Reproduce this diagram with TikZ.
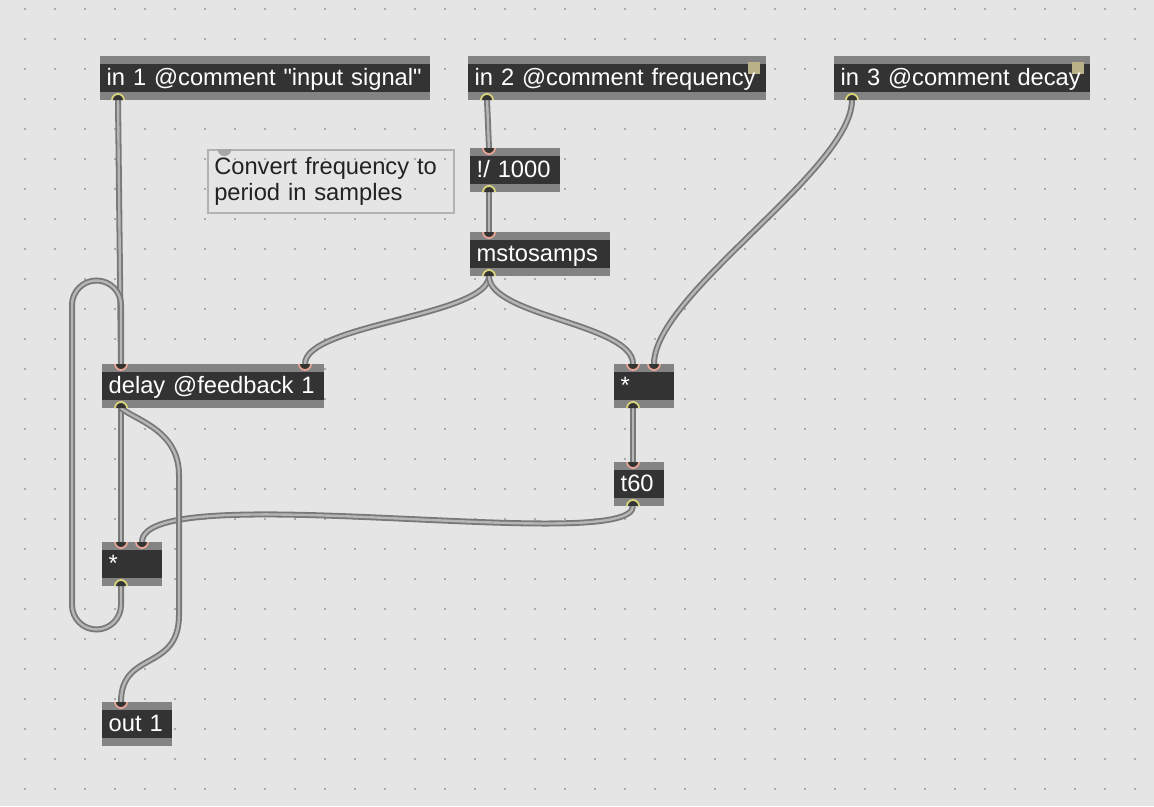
\documentclass[tikz,border=0pt]{standalone}
\usepackage{fontspec}
\setmainfont{Liberation Sans}
\definecolor{bggrey}{HTML}{E5E5E5}
\definecolor{dotgrey}{HTML}{ABABAB}
\definecolor{bargrey}{HTML}{838383}
\definecolor{objdark}{HTML}{333333}
\definecolor{inring}{HTML}{E8A595}
\definecolor{outring}{HTML}{D9D57A}
\definecolor{cableout}{HTML}{787878}
\definecolor{cablein}{HTML}{B6B6B6}
\definecolor{markertan}{HTML}{B9B188}
\definecolor{noteborder}{HTML}{B2B2B2}
\definecolor{notedot}{HTML}{A6A6A6}
\definecolor{notetext}{HTML}{222222}
\newcommand{\inlet}[1]{%
  \fill[objdark] (#1) ++(-6,0) arc[start angle=180,end angle=360,radius=6pt] -- cycle;
  \draw[inring, line width=1.8pt] (#1) ++(-6,0) arc[start angle=180,end angle=360,radius=6pt];}
\newcommand{\outlet}[1]{%
  \fill[objdark] (#1) ++(-6,0) arc[start angle=180,end angle=0,radius=6pt] -- cycle;
  \draw[outring, line width=1.8pt] (#1) ++(-6,0) arc[start angle=180,end angle=0,radius=6pt];}
\begin{document}
\begin{tikzpicture}[x=1pt, y=-1pt,
  obj/.style={rectangle, anchor=north west, fill=objdark, inner xsep=6.5pt, inner ysep=0pt,
    minimum height=44pt, text width=#1, align=left, text=white,
    font=\fontsize{23.7}{26}\selectfont, text height=17pt, text depth=3pt,
    execute at begin node={\hbox\bgroup}, execute at end node={\egroup},
    path picture={
      \fill[bargrey] (path picture bounding box.north west) rectangle ([yshift=-8pt]path picture bounding box.north east);
      \fill[bargrey] (path picture bounding box.south west) rectangle ([yshift=8pt]path picture bounding box.south east);}},
  marked/.style={path picture={
      \fill[bargrey] (path picture bounding box.north west) rectangle ([yshift=-8pt]path picture bounding box.north east);
      \fill[bargrey] (path picture bounding box.south west) rectangle ([yshift=8pt]path picture bounding box.south east);
      \fill[markertan] ([xshift=-18pt,yshift=-6pt]path picture bounding box.north east) rectangle ++(12pt,-12pt);}},
  note/.style={rectangle, anchor=north west, draw=noteborder, line width=1.5pt,
    minimum width=246pt, minimum height=63pt, inner xsep=6pt, text width=233pt,
    align=left, text=notetext, font=\fontsize{23.7}{26}\selectfont},
  cable/.style={draw=cableout, line width=1.8pt, double=cablein, double distance=2.4pt}]
\useasboundingbox (0,0) rectangle (1154,806);
\fill[bggrey] (0,0) rectangle (1154,806);
\foreach \x in {25,55,...,1135}
  \foreach \y in {9,39,...,789}
    \fill[dotgrey] (\x-1,\y-1) rectangle (\x+1,\y+1);
% objects
\node[obj=317pt] (in1) at (100,56) {in 1 @comment \textquotedbl input signal\textquotedbl};
\node[obj=285pt, marked] (in2) at (468,56) {in 2 @comment frequency};
\node[obj=243pt, marked] (in3) at (834,56) {in 3 @comment decay};
\node[obj=77pt] (div) at (470,148) {!/ 1000};
\node[obj=127pt] (msto) at (470,232) {mstosamps};
\node[obj=209pt] (delay) at (102,364) {delay @feedback 1};
\node[obj=47pt] (mulR) at (614,364) {*};
\node[obj=37pt] (t60) at (614,462) {t60};
\node[obj=47pt] (mulL) at (102,542) {*};
\node[obj=57pt] (out1) at (102,702) {out 1};
\node[note] (note) at (207,149) {Convert frequency to\\period in samples};
\fill[notedot] (224.5,149) ++(-7,0) arc[start angle=180,end angle=360,radius=7pt] -- cycle;
% ports
\coordinate (in1out) at (118,100);
\coordinate (in2out) at (487,100);
\coordinate (in3out) at (852,100);
\coordinate (divin) at (489,148);
\coordinate (divout) at (489,192);
\coordinate (mstoin) at (489,232);
\coordinate (mstoout) at (489,276);
\coordinate (delayin1) at (121,364);
\coordinate (delayin2) at (305,364);
\coordinate (delayout) at (121,408);
\coordinate (mulRin1) at (633,364);
\coordinate (mulRin2) at (654,364);
\coordinate (mulRout) at (633,408);
\coordinate (t60in) at (633,462);
\coordinate (t60out) at (633,506);
\coordinate (mulLin1) at (121,542);
\coordinate (mulLin2) at (142,542);
\coordinate (mulLout) at (121,586);
\coordinate (out1in) at (121,702);
% cables
\draw[cable] (in1out) -- (delayin1);
\draw[cable] (in2out) -- (divin);
\draw[cable] (divout) -- (mstoin);
\draw[cable] (mstoout) .. controls (489,316) and (305,324) .. (delayin2);
\draw[cable] (mstoout) .. controls (489,316) and (633,324) .. (mulRin1);
\draw[cable] (in3out) .. controls (852,170) and (654,294) .. (mulRin2);
\draw[cable] (mulRout) -- (t60in);
\draw[cable] (t60out) .. controls (633,556) and (142,476) .. (mulLin2);
\draw[cable] (delayout) -- (mulLin1);
\draw[cable] (delayout) .. controls (135,420) and (179,430) .. (179,475) -- (179,615)
  .. controls (179,672) and (121,650) .. (out1in);
\draw[cable] (mulLout) -- (121,605) arc[start angle=0,end angle=-180,radius=24.5pt]
  -- (72,305) arc[start angle=180,end angle=0,radius=24.5pt] -- (delayin1);
% inlets and outlets
\outlet{in1out} \outlet{in2out} \outlet{in3out}
\inlet{divin} \outlet{divout}
\inlet{mstoin} \outlet{mstoout}
\inlet{delayin1} \inlet{delayin2} \outlet{delayout}
\inlet{mulRin1} \inlet{mulRin2} \outlet{mulRout}
\inlet{t60in} \outlet{t60out}
\inlet{mulLin1} \inlet{mulLin2} \outlet{mulLout}
\inlet{out1in}
\end{tikzpicture}
\end{document}
